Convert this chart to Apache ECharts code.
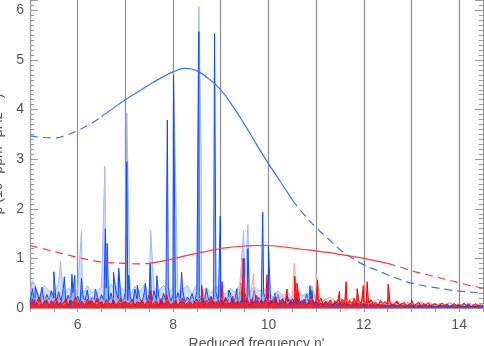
<!DOCTYPE html>
<html>
<head>
<meta charset="utf-8">
<script src="https://cdn.jsdelivr.net/npm/echarts@6/dist/echarts.min.js"></script>
<style>
  html, body { margin: 0; padding: 0; background: #fff; }
  #chart { width: 484px; height: 346px; }
</style>
</head>
<body>
<div id="chart"></div>
<script>
// sampled spectra start at n' = 5.0
const sampleStart = 5

// dark blue spectrum, one value every 0.05
const blueStep = 0.05
const blueNoise = [
  0.12, 0.38, 0.08, 0.30, 0.15, 0.42, 0.10, 0.27, 0.18, 0.35,
  0.20, 0.09, 0.33, 0.14, 0.40, 0.11, 0.26, 0.07, 0.31, 0.16,
  0.24, 0.10, 0.29, 0.13, 0.36, 0.09, 0.22, 0.17, 0.34, 0.11,
  0.27, 0.15, 0.40, 0.12, 0.30, 0.08, 0.36, 0.18, 0.25, 0.10,
  0.32, 0.14, 0.24, 0.09, 0.38, 0.16, 0.21, 0.11, 0.33, 0.13,
  0.28, 0.10, 0.35, 0.17, 0.23, 0.08, 0.30, 0.14, 0.42, 0.12,
  0.26, 0.09, 0.31, 0.15, 0.37, 0.11, 0.22, 0.16, 0.29, 0.10,
  0.34, 0.13, 0.27, 0.10, 0.39, 0.15, 0.24, 0.09, 0.32, 0.12,
  0.28, 0.08, 0.22, 0.14, 0.30, 0.10, 0.19, 0.07, 0.26, 0.11,
  0.33, 0.12, 0.25, 0.09, 0.36, 0.14, 0.21, 0.10, 0.30, 0.13,
  0.22, 0.08, 0.18, 0.11, 0.27, 0.07, 0.15, 0.10, 0.24, 0.06,
  0.19, 0.09, 0.23, 0.07, 0.16, 0.10, 0.28, 0.08, 0.14, 0.06,
  0.12, 0.05, 0.10, 0.04, 0.14, 0.06, 0.09, 0.03, 0.11, 0.05,
  0.08, 0.04, 0.10, 0.05, 0.07, 0.03, 0.09, 0.04, 0.12, 0.05,
  0.07, 0.03, 0.09, 0.04, 0.06, 0.02, 0.08, 0.04, 0.05, 0.03,
  0.06, 0.02, 0.08, 0.03, 0.05, 0.04, 0.07, 0.02, 0.06, 0.03,
  0.05, 0.02, 0.07, 0.03, 0.04, 0.02, 0.06, 0.03, 0.05, 0.02,
  0.04, 0.02, 0.06, 0.03, 0.05, 0.02, 0.04, 0.03, 0.06, 0.02,
  0.05, 0.02, 0.04, 0.03, 0.06, 0.02, 0.04, 0.03, 0.05, 0.02,
  0.03
]
const bluePeaks = [
  [5.11, 0.43], [5.29, 0.45], [5.50, 0.73], [5.72, 0.63], [5.88, 0.68],
  [5.94, 0.66], [6.08, 0.60], [6.37, 0.38], [6.58, 1.60], [6.62, 1.30],
  [6.75, 0.72], [6.86, 0.80], [7.03, 2.95], [7.07, 0.66], [7.25, 0.46],
  [7.42, 0.50], [7.52, 0.90], [7.66, 0.65], [7.88, 3.79], [8.01, 4.69],
  [8.18, 0.72], [8.54, 5.57], [8.87, 5.53], [8.99, 1.85], [9.17, 0.36],
  [9.34, 0.39], [9.42, 0.50], [9.49, 1.00], [9.57, 1.20], [9.88, 1.93],
  [10.00, 1.24], [10.14, 0.30], [10.87, 0.45], [10.91, 0.35]
]

// light blue spectrum, one value every 0.1
const lightStep = 0.1
const blueLightNoise = [
  0.30, 0.48, 0.22, 0.45, 0.35, 0.28, 0.50, 0.25, 0.40, 0.32,
  0.38, 0.27, 0.45, 0.30, 0.35, 0.42, 0.28, 0.48, 0.33, 0.40,
  0.36, 0.25, 0.44, 0.31, 0.48, 0.29, 0.40, 0.35, 0.46, 0.30,
  0.42, 0.33, 0.38, 0.45, 0.27, 0.50, 0.34, 0.41, 0.30, 0.44,
  0.35, 0.28, 0.40, 0.32, 0.46, 0.38, 0.30, 0.43, 0.34, 0.40,
  0.30, 0.22, 0.35, 0.25, 0.32, 0.20, 0.36, 0.24, 0.30, 0.26,
  0.15, 0.10, 0.18, 0.09, 0.14, 0.12, 0.16, 0.08, 0.13, 0.10,
  0.11, 0.07, 0.12, 0.08, 0.10, 0.06, 0.11, 0.07, 0.09, 0.08,
  0.09, 0.06, 0.10, 0.07, 0.08, 0.05, 0.09, 0.06, 0.10, 0.07,
  0.08, 0.05, 0.09, 0.06, 0.07, 0.05
]
const blueLightPeaks = [
  [5.05, 0.55], [5.64, 0.93], [6.08, 1.56], [6.57, 2.86], [6.86, 0.73],
  [7.03, 3.93], [7.53, 1.56], [8.01, 4.69], [8.54, 6.08], [8.59, 3.12],
  [9.48, 1.57], [9.57, 1.68], [10.91, 0.45]
]

// red spectrum, one value every 0.05
const redStep = 0.05
const redNoise = [
  0.08, 0.18, 0.05, 0.14, 0.22, 0.06, 0.12, 0.17, 0.04, 0.15,
  0.10, 0.20, 0.06, 0.13, 0.09, 0.19, 0.05, 0.16, 0.11, 0.21,
  0.07, 0.15, 0.12, 0.04, 0.18, 0.09, 0.14, 0.06, 0.20, 0.08,
  0.13, 0.05, 0.17, 0.10, 0.07, 0.16, 0.04, 0.12, 0.19, 0.06,
  0.14, 0.08, 0.11, 0.18, 0.05, 0.13, 0.09, 0.16, 0.06, 0.12,
  0.17, 0.07, 0.10, 0.15, 0.05, 0.19, 0.08, 0.12, 0.14, 0.06,
  0.11, 0.16, 0.05, 0.13, 0.20, 0.07, 0.10, 0.15, 0.06, 0.12,
  0.18, 0.08, 0.14, 0.05, 0.16, 0.10, 0.22, 0.07, 0.13, 0.09,
  0.15, 0.06, 0.19, 0.11, 0.08, 0.24, 0.07, 0.14, 0.10, 0.18,
  0.12, 0.21, 0.06, 0.17, 0.09, 0.25, 0.08, 0.15, 0.11, 0.20,
  0.07, 0.16, 0.10, 0.22, 0.06, 0.14, 0.19, 0.08, 0.12, 0.17,
  0.09, 0.21, 0.07, 0.15, 0.11, 0.18, 0.06, 0.13, 0.23, 0.08,
  0.16, 0.10, 0.20, 0.07, 0.13, 0.09, 0.17, 0.06, 0.14, 0.11,
  0.08, 0.18, 0.12, 0.06, 0.15, 0.09, 0.19, 0.07, 0.13, 0.10,
  0.14, 0.06, 0.11, 0.17, 0.08, 0.12, 0.05, 0.15, 0.09, 0.13,
  0.07, 0.12, 0.05, 0.10, 0.14, 0.06, 0.09, 0.11, 0.04, 0.08,
  0.10, 0.05, 0.08, 0.12, 0.04, 0.09, 0.06, 0.11, 0.05, 0.07,
  0.09, 0.04, 0.07, 0.10, 0.05, 0.08, 0.03, 0.06, 0.09, 0.05,
  0.07, 0.04, 0.10, 0.05, 0.08, 0.03, 0.06, 0.09, 0.04, 0.06,
  0.05
]
const redPeaks = [
  [7.53, 0.35], [7.86, 0.28], [8.60, 0.46], [9.03, 0.53], [9.47, 1.00],
  [9.97, 0.67], [10.39, 0.38], [10.55, 0.64], [10.60, 0.50], [11.03, 0.56],
  [11.49, 0.34], [11.63, 0.53], [11.86, 0.39], [11.99, 0.45], [12.07, 0.53],
  [12.51, 0.48], [13.00, 0.17]
]

// light red spectrum, one value every 0.1
const redLightNoise = [
  0.12, 0.20, 0.08, 0.16, 0.22, 0.10, 0.18, 0.07, 0.15, 0.21,
  0.09, 0.17, 0.13, 0.22, 0.08, 0.19, 0.11, 0.16, 0.23, 0.10,
  0.18, 0.09, 0.14, 0.21, 0.12, 0.17, 0.08, 0.20, 0.13, 0.16,
  0.10, 0.22, 0.15, 0.09, 0.19, 0.12, 0.24, 0.11, 0.17, 0.14,
  0.21, 0.10, 0.26, 0.13, 0.18, 0.23, 0.11, 0.20, 0.15, 0.24,
  0.12, 0.22, 0.17, 0.25, 0.10, 0.19, 0.23, 0.13, 0.21, 0.16,
  0.24, 0.11, 0.18, 0.22, 0.14, 0.20, 0.12, 0.17, 0.21, 0.10,
  0.15, 0.09, 0.13, 0.18, 0.08, 0.12, 0.10, 0.14, 0.07, 0.11,
  0.09, 0.06, 0.12, 0.08, 0.10, 0.05, 0.09, 0.07, 0.11, 0.06,
  0.08, 0.05, 0.10, 0.06, 0.07, 0.05
]
const redLightPeaks = [
  [9.46, 1.00], [9.69, 0.70], [10.19, 0.30], [10.54, 0.90], [11.00, 0.70],
  [12.01, 0.50]
]

// smooth fitted envelopes
const fitFreq = [
  5.00, 5.25, 5.50, 5.75, 6.00, 6.25, 6.50, 6.75, 7.00, 7.25,
  7.50, 7.75, 8.00, 8.25, 8.50, 8.75, 9.00, 9.25, 9.50, 9.75,
  10.00, 10.25, 10.50, 10.75, 11.00, 11.25, 11.50, 11.75, 12.00, 12.25,
  12.50, 12.75, 13.00, 13.25, 13.50, 13.75, 14.00, 14.25, 14.50
]
const blueFit = [
  3.47, 3.44, 3.43, 3.48, 3.58, 3.70, 3.86, 4.03, 4.20, 4.35,
  4.50, 4.64, 4.76, 4.83, 4.78, 4.62, 4.40, 4.07, 3.70, 3.30,
  2.91, 2.55, 2.18, 1.88, 1.62, 1.40, 1.18, 1.01, 0.87, 0.77,
  0.67, 0.58, 0.50, 0.45, 0.41, 0.37, 0.34, 0.32, 0.30
]
const redFit = [
  1.26, 1.20, 1.14, 1.08, 1.02, 0.97, 0.93, 0.91, 0.90, 0.89,
  0.90, 0.94, 0.99, 1.05, 1.10, 1.15, 1.20, 1.23, 1.25, 1.26,
  1.26, 1.24, 1.21, 1.18, 1.15, 1.12, 1.08, 1.04, 1.00, 0.95,
  0.90, 0.83, 0.75, 0.69, 0.63, 0.57, 0.51, 0.45, 0.40
]

const xTicks = [6, 8, 10, 12, 14]
const yTicks = [0, 1, 2, 3, 4, 5, 6]

const font = 'Liberation Sans, Arial, sans-serif'
const axisGray = '#9a9a9a'
const textGray = '#555'

function sampled(values, step, peaks) {
  const pts = values.map((v, i) => [+(sampleStart + i * step).toFixed(3), v])
  return pts.concat(peaks).sort((a, b) => a[0] - b[0])
}

function fitPart(vals, lo, hi) {
  const out = []
  fitFreq.forEach((f, i) => {
    if (f >= lo && f <= hi) out.push([f, vals[i]])
  })
  return out
}

function spectrum(data, color, fillOpacity) {
  const s = {
    type: 'line',
    data: data,
    showSymbol: false,
    symbol: 'none',
    lineStyle: { color: color, width: 1 },
    silent: true
  }
  if (fillOpacity) s.areaStyle = { color: color, opacity: fillOpacity }
  return s
}

function fit(data, color, dashed) {
  return {
    type: 'line',
    data: data,
    smooth: true,
    symbol: 'none',
    lineStyle: { color: color, width: 1.2, type: dashed ? [8, 5] : 'solid' },
    silent: true,
    z: 5
  }
}

const chart = echarts.init(document.getElementById('chart'))

const xBase = {
  type: 'value',
  min: 5,
  max: 14.5,
  interval: 1,
  axisLine: { show: true, lineStyle: { color: axisGray } },
  axisTick: { show: true, inside: true, length: 4, lineStyle: { color: axisGray } },
  minorTick: { show: true, splitNumber: 2, length: 4, lineStyle: { color: axisGray } }
}
const yBase = {
  type: 'value',
  min: 0,
  max: 6.21,
  interval: 1,
  axisLine: { show: true, lineStyle: { color: axisGray } },
  axisTick: { show: true, inside: true, length: 8, lineStyle: { color: axisGray } },
  minorTick: { show: true, splitNumber: 10, length: 4, lineStyle: { color: axisGray } },
  splitLine: { show: false }
}

chart.setOption({
  animation: false,
  backgroundColor: '#fff',
  grid: { left: 30, right: 1, top: 0, bottom: 38, containLabel: false, outerBoundsMode: 'none' },
  xAxis: [
    Object.assign({}, xBase, {
      position: 'bottom',
      name: "Reduced frequency n'",
      nameLocation: 'middle',
      nameGap: 28,
      nameTextStyle: { fontFamily: font, fontSize: 14, color: textGray },
      axisLabel: {
        fontFamily: font, fontSize: 14, color: textGray, margin: 10,
        formatter: v => (xTicks.indexOf(v) >= 0 ? String(v) : '')
      },
      splitLine: { show: true, lineStyle: { color: '#8c8c8c', width: 1.2 } }
    }),
    Object.assign({}, xBase, {
      position: 'top',
      axisLabel: { show: false },
      splitLine: { show: false }
    })
  ],
  yAxis: [
    Object.assign({}, yBase, {
      position: 'left',
      name: '{a|p (10}{b|6}{a| ppm}{b|2}{a| μHz}{b|−1}{a| )}',
      nameLocation: 'middle',
      nameGap: 18,
      nameTextStyle: {
        rich: {
          a: { fontFamily: font, fontSize: 14, color: textGray, lineHeight: 18 },
          b: { fontFamily: font, fontSize: 9, color: textGray, lineHeight: 10, verticalAlign: 'top' }
        }
      },
      axisLabel: {
        fontFamily: font, fontSize: 14, color: textGray, margin: 6,
        formatter: v => (yTicks.indexOf(v) >= 0 ? String(v) : '')
      }
    }),
    Object.assign({}, yBase, {
      position: 'right',
      axisLabel: { show: false }
    })
  ],
  series: [
    spectrum(sampled(blueLightNoise, lightStep, blueLightPeaks), '#9fbaff', 0.45),
    spectrum(sampled(blueNoise, blueStep, bluePeaks), '#0a48ff', 0.3),
    spectrum(sampled(redLightNoise, lightStep, redLightPeaks), '#ff9c9c', 0),
    spectrum(sampled(redNoise, redStep, redPeaks), '#ff0000', 0.8),
    fit(fitPart(blueFit, 5, 6.5), '#3d70ff', true),
    fit(fitPart(blueFit, 6.5, 10.5), '#3d70ff', false),
    fit(fitPart(blueFit, 10.5, 14.5), '#3d70ff', true),
    fit(fitPart(redFit, 5, 7.5), '#ff3a3a', true),
    fit(fitPart(redFit, 7.5, 12.5), '#ff3a3a', false),
    fit(fitPart(redFit, 12.5, 14.5), '#ff3a3a', true)
  ]
})
</script>
</body>
</html>
